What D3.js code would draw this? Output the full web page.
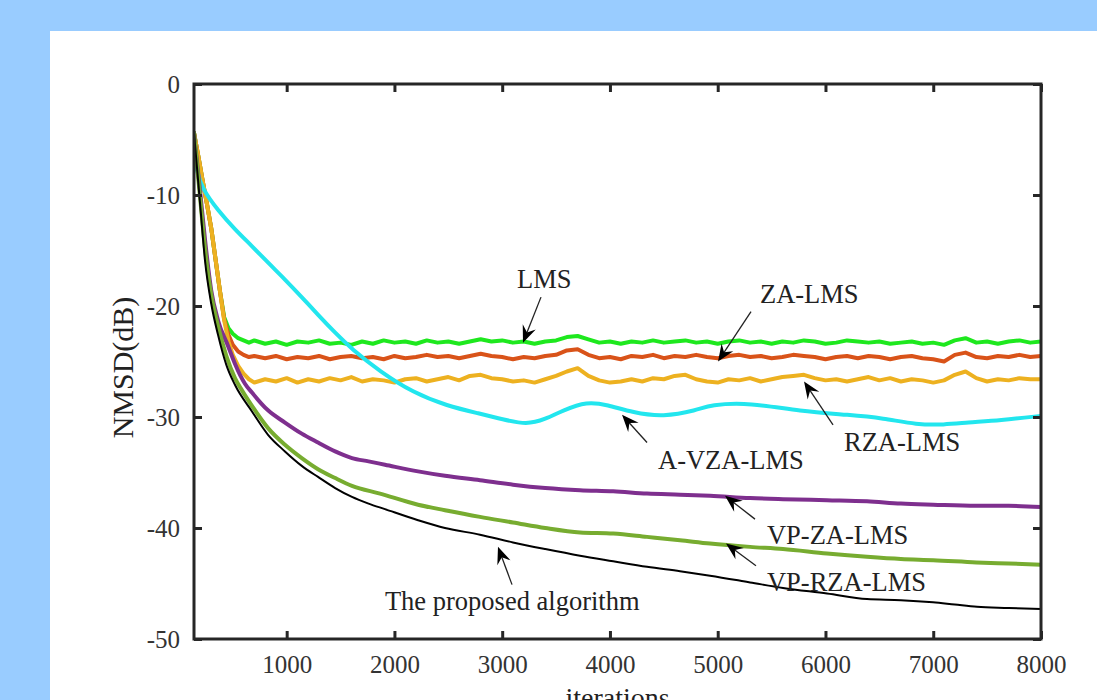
<!DOCTYPE html>
<html>
<head>
<meta charset="utf-8">
<script src="https://cdn.jsdelivr.net/npm/d3@7"></script>
<style>
  html, body { margin: 0; padding: 0; background: #99ccff; }
  svg { display: block; }
  text { font-family: "Liberation Serif", "Times New Roman", serif; }
</style>
</head>
<body>
<svg id="chart" width="1097" height="700"></svg>
<script>
// ---------------- DATA ----------------
const xTicks = [1000, 2000, 3000, 4000, 5000, 6000, 7000, 8000];
const yTicks = [0, -10, -20, -30, -40, -50];

// noisy steady-state curves: early transient + steady part on a 100-iteration grid
const earlyIter = [140, 180, 220, 260, 300, 340, 380, 420, 460, 500, 550, 600, 650];
const steadyIter = d3.range(700, 8001, 100);

const lmsEarly = [-4.4, -6.5, -8.7, -10.8, -13.0, -15.8, -18.6, -21.0, -22.0, -22.5, -22.9, -23.1, -23.3];
const lmsSteady = [
  -23.1, -23.4, -23.2,
  -23.5, -23.2, -23.3, -23.1, -23.4, -23.3, -23.5, -23.2, -23.4, -23.1,
  -23.3, -23.2, -23.4, -23.1, -23.3, -23.2, -23.4, -23.2, -23.0, -23.2,
  -23.1, -23.3, -23.2, -23.4, -23.2, -23.1, -22.8, -22.7, -23.0, -23.3,
  -23.2, -23.4, -23.2, -23.3, -23.1, -23.3, -23.2, -23.1, -23.3, -23.2,
  -23.4, -23.2, -23.1, -23.3, -23.2, -23.4, -23.2, -23.3, -23.1, -23.2,
  -23.4, -23.3, -23.1, -23.2, -23.3, -23.2, -23.4, -23.3, -23.2, -23.4,
  -23.3, -23.5, -23.1, -22.9, -23.3, -23.2, -23.4, -23.2, -23.1, -23.3,
  -23.2];

const zaEarly = [-4.4, -6.5, -8.7, -10.8, -13.0, -15.8, -18.6, -21.2, -22.6, -23.5, -24.1, -24.4, -24.6];
const zaSteady = [
  -24.5, -24.7, -24.5,
  -24.8, -24.6, -24.7, -24.5, -24.8, -24.6, -24.5, -24.7, -24.6, -24.8,
  -24.5, -24.7, -24.6, -24.4, -24.6, -24.5, -24.7, -24.5, -24.3, -24.5,
  -24.6, -24.8, -24.6, -24.7, -24.5, -24.4, -24.0, -23.9, -24.4, -24.7,
  -24.6, -24.8, -24.5, -24.6, -24.4, -24.7, -24.5, -24.6, -24.4, -24.6,
  -24.7, -24.5, -24.4, -24.6, -24.5, -24.7, -24.6, -24.4, -24.5, -24.6,
  -24.8, -24.6, -24.5, -24.7, -24.5, -24.6, -24.8, -24.6, -24.5, -24.7,
  -24.8, -25.0, -24.4, -24.2, -24.6, -24.7, -24.5, -24.6, -24.4, -24.6,
  -24.5];

const rzaEarly = [-4.4, -6.5, -8.7, -10.8, -13.0, -15.8, -18.6, -21.3, -23.2, -24.4, -25.4, -26.1, -26.6];
const rzaSteady = [
  -26.9, -26.6, -26.8,
  -26.5, -26.9, -26.6, -26.8, -26.5, -26.7, -26.4, -26.8, -26.6, -26.7,
  -26.9, -26.6, -26.5, -26.8, -26.6, -26.4, -26.7, -26.3, -26.2, -26.5,
  -26.6, -26.8, -26.7, -26.9, -26.6, -26.3, -25.9, -25.6, -26.3, -26.7,
  -26.9, -26.8, -26.6, -26.8, -26.5, -26.6, -26.3, -26.2, -26.6, -26.8,
  -26.9, -26.6, -26.7, -26.5, -26.8, -26.6, -26.4, -26.3, -26.2, -26.5,
  -26.7, -26.6, -26.8, -26.6, -26.4, -26.7, -26.5, -26.8, -26.6, -26.7,
  -26.9, -26.7, -26.2, -25.9, -26.5, -26.8, -26.6, -26.7, -26.5, -26.6,
  -26.6];

// smooth curves
const avzaIter = [140, 165, 214, 363, 520, 678, 827, 984, 1140, 1291, 1448, 1606, 1866, 2172, 2488, 2794, 3000, 3230, 3400, 3564, 3787, 3973, 4214, 4492, 4808, 4928, 5300, 5764, 6228, 6534, 6850, 7100, 7313, 7620, 8000];
const avzaNmsd = [-6.1, -7.8, -9.4, -11.4, -13.1, -14.6, -16.1, -17.6, -19.2, -20.8, -22.4, -23.9, -25.9, -27.8, -29.0, -29.7, -30.2, -30.7, -30.2, -29.4, -28.6, -28.9, -29.6, -30.0, -29.4, -28.9, -28.7, -29.5, -29.8, -30.1, -30.7, -30.7, -30.5, -30.3, -29.9];

const vpzaIter = [140, 200, 242, 300, 363, 456, 520, 567, 613, 678, 827, 984, 1140, 1291, 1450, 1606, 1760, 1912, 2219, 2469, 2794, 3100, 3400, 3722, 4030, 4344, 4650, 4929, 5300, 5606, 6014, 6385, 6700, 7000, 7400, 7700, 8000];
const vpzaNmsd = [-4.4, -10.0, -14.0, -18.6, -21.3, -23.6, -25.2, -26.2, -27.0, -27.8, -29.4, -30.5, -31.5, -32.3, -33.1, -33.7, -34.0, -34.3, -34.9, -35.3, -35.7, -36.1, -36.4, -36.6, -36.7, -36.9, -37.0, -37.1, -37.3, -37.4, -37.5, -37.6, -37.8, -37.9, -38.0, -38.0, -38.1];

const vprzaIter = [140, 200, 242, 300, 363, 440, 520, 585, 678, 827, 984, 1140, 1291, 1450, 1606, 1866, 2219, 2469, 2794, 3100, 3400, 3722, 4030, 4344, 4650, 4929, 5300, 5606, 6014, 6385, 6700, 7000, 7400, 7700, 8000];
const vprzaNmsd = [-4.4, -10.6, -14.8, -19.0, -21.8, -24.5, -26.5, -27.6, -29.0, -31.0, -32.5, -33.7, -34.7, -35.5, -36.2, -36.9, -37.9, -38.4, -39.0, -39.5, -40.0, -40.4, -40.5, -40.8, -41.1, -41.4, -41.7, -41.9, -42.3, -42.6, -42.8, -42.9, -43.1, -43.2, -43.3];

const propIter = [140, 200, 242, 300, 363, 440, 520, 678, 827, 984, 1140, 1291, 1450, 1606, 1760, 1912, 2219, 2469, 2794, 3100, 3400, 3722, 4030, 4344, 4650, 4929, 5300, 5606, 6014, 6385, 6700, 6998, 7200, 7406, 7700, 8000];
const propNmsd = [-4.4, -11.2, -15.9, -19.8, -22.6, -25.3, -27.1, -29.5, -31.6, -33.1, -34.4, -35.4, -36.4, -37.2, -37.8, -38.3, -39.3, -40.0, -40.6, -41.3, -41.9, -42.5, -43.0, -43.5, -43.9, -44.3, -44.9, -45.4, -45.9, -46.4, -46.5, -46.7, -46.9, -47.1, -47.2, -47.3];

// annotations
const annoLabels = ["LMS", "ZA-LMS", "RZA-LMS", "A-VZA-LMS", "VP-ZA-LMS", "VP-RZA-LMS", "The proposed algorithm"];
const annoTextIter = [3137, 5392, 6172, 4446, 5457, 5457, 1912];
const annoTextNmsd = [-18.4, -19.7, -33.1, -34.7, -41.4, -45.7, -47.4];
const arrowTailIter = [3360, 5309, 6070, 4344, 5346, 5355, 3091];
const arrowTailNmsd = [-19.2, -20.5, -30.7, -32.3, -39.2, -43.4, -45.1];
const arrowTipIter = [3193, 5003, 5801, 4112, 5068, 5077, 2961];
const arrowTipNmsd = [-23.3, -25.0, -26.8, -29.8, -37.1, -41.4, -41.7];

// ---------------- CHART ----------------
const svg = d3.select("#chart");
const W = 1097, H = 700;
const plot = {left: 194, right: 1041, top: 84, bottom: 639};

svg.append("rect").attr("width", W).attr("height", H).attr("fill", "#99ccff");
svg.append("rect").attr("x", 50).attr("y", 31).attr("width", W - 50).attr("height", H - 31).attr("fill", "#ffffff");

const x = d3.scaleLinear().domain([140, 8000]).range([plot.left, plot.right]);
const y = d3.scaleLinear().domain([-50, 0]).range([plot.bottom, plot.top]);

svg.append("clipPath").attr("id", "clip").append("rect")
  .attr("x", plot.left).attr("y", plot.top)
  .attr("width", plot.right - plot.left).attr("height", plot.bottom - plot.top);

const series = [
  {xs: earlyIter.concat(steadyIter), ys: lmsEarly.concat(lmsSteady), color: "#1ee81e", w: 4, curve: d3.curveLinear},
  {xs: earlyIter.concat(steadyIter), ys: zaEarly.concat(zaSteady), color: "#d95319", w: 4, curve: d3.curveLinear},
  {xs: earlyIter.concat(steadyIter), ys: rzaEarly.concat(rzaSteady), color: "#edb120", w: 4, curve: d3.curveLinear},
  {xs: avzaIter, ys: avzaNmsd, color: "#22e6ee", w: 4, curve: d3.curveBasis},
  {xs: vpzaIter, ys: vpzaNmsd, color: "#7e2f8e", w: 4, curve: d3.curveMonotoneX},
  {xs: vprzaIter, ys: vprzaNmsd, color: "#77ac30", w: 4, curve: d3.curveMonotoneX},
  {xs: propIter, ys: propNmsd, color: "#000000", w: 2, curve: d3.curveMonotoneX}
];

const gLines = svg.append("g").attr("clip-path", "url(#clip)");
series.forEach(s => {
  const pts = s.xs.map((v, i) => [v, s.ys[i]]);
  const line = d3.line().x(d => x(d[0])).y(d => y(d[1])).curve(s.curve);
  gLines.append("path").datum(pts)
    .attr("d", line).attr("fill", "none")
    .attr("stroke", s.color).attr("stroke-width", s.w)
    .attr("stroke-linejoin", "round").attr("stroke-linecap", "round");
});

// axes
const axisColor = "#262626";
function styleAxis(g, labels) {
  g.select(".domain").remove();
  g.selectAll(".tick line").attr("stroke", axisColor).attr("stroke-width", 3);
  g.selectAll(".tick text")
    .attr("fill", "#333")
    .style("font-family", '"Liberation Serif", "Times New Roman", serif')
    .style("font-size", "25px");
  if (!labels) g.selectAll(".tick text").remove();
}

const gx = svg.append("g").attr("transform", `translate(0,${plot.bottom})`)
  .call(d3.axisBottom(x).tickValues(xTicks).tickSizeInner(-8).tickSizeOuter(0).tickPadding(16).tickFormat(d3.format("d")));
styleAxis(gx, true);
const gxt = svg.append("g").attr("transform", `translate(0,${plot.top})`)
  .call(d3.axisTop(x).tickValues(xTicks).tickSizeInner(-8).tickSizeOuter(0));
styleAxis(gxt, false);
const gy = svg.append("g").attr("transform", `translate(${plot.left},0)`)
  .call(d3.axisLeft(y).tickValues(yTicks).tickSizeInner(-8).tickSizeOuter(0).tickPadding(14).tickFormat(d => d3.format("d")(d).replace("−", "-")));
styleAxis(gy, true);
const gyr = svg.append("g").attr("transform", `translate(${plot.right},0)`)
  .call(d3.axisRight(y).tickValues(yTicks).tickSizeInner(-8).tickSizeOuter(0));
styleAxis(gyr, false);

svg.append("rect")
  .attr("x", plot.left).attr("y", plot.top)
  .attr("width", plot.right - plot.left).attr("height", plot.bottom - plot.top)
  .attr("fill", "none").attr("stroke", axisColor).attr("stroke-width", 3);

// axis titles
svg.append("text")
  .attr("transform", `translate(133,${(plot.top + plot.bottom) / 2 + 6}) rotate(-90)`)
  .attr("text-anchor", "middle")
  .attr("fill", "#222")
  .style("font-size", "30px")
  .text("NMSD(dB)");

svg.append("text")
  .attr("x", (plot.left + plot.right) / 2)
  .attr("y", 707)
  .attr("text-anchor", "middle")
  .attr("fill", "#222")
  .style("font-size", "28px")
  .text("iterations");

// annotations
const gA = svg.append("g");
annoLabels.forEach((lab, i) => {
  gA.append("text")
    .attr("x", x(annoTextIter[i])).attr("y", y(annoTextNmsd[i]))
    .attr("fill", "#222")
    .style("font-size", "26.5px")
    .text(lab);
  const x0 = x(arrowTailIter[i]), y0 = y(arrowTailNmsd[i]);
  const x1 = x(arrowTipIter[i]), y1 = y(arrowTipNmsd[i]);
  const ang = Math.atan2(y1 - y0, x1 - x0);
  const len = Math.hypot(x1 - x0, y1 - y0);
  const g = gA.append("g").attr("transform", `translate(${x0},${y0}) rotate(${ang * 180 / Math.PI})`);
  g.append("line").attr("x1", 0).attr("y1", 0).attr("x2", len - 10).attr("y2", 0)
    .attr("stroke", "#222").attr("stroke-width", 1.3);
  g.append("path")
    .attr("d", `M${len},0 L${len - 17},-7 L${len - 11},0 L${len - 17},7 Z`)
    .attr("fill", "#000");
});
</script>
</body>
</html>
